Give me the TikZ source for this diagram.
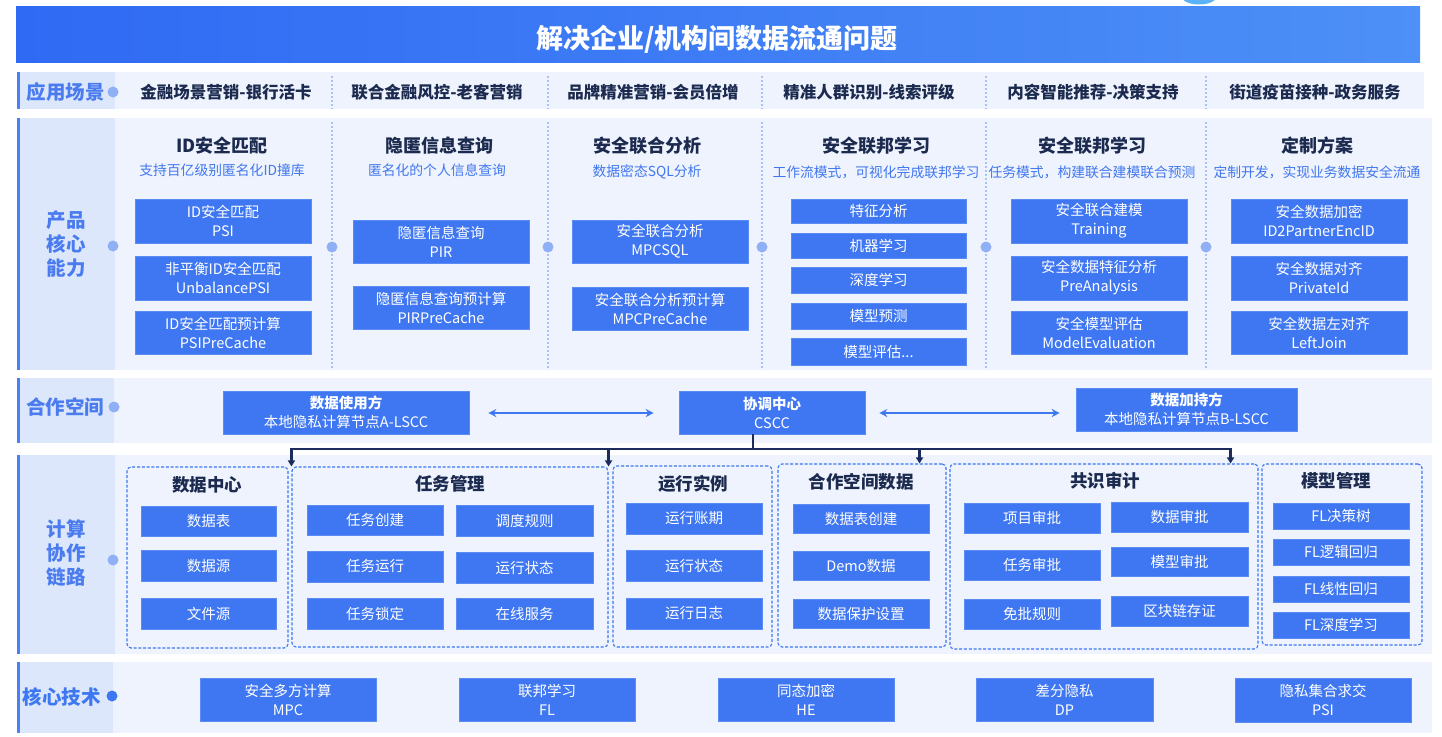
\documentclass[tikz,border=0pt]{standalone}
\usepackage{fontspec}
\setmainfont{Noto Sans CJK SC}
\usetikzlibrary{arrows.meta}
\definecolor{boxblue}{HTML}{3F77F2}
\definecolor{boxedge}{HTML}{5A8CF4}
\definecolor{rowbg}{HTML}{EEF3FD}
\definecolor{panelbg}{HTML}{DDE7FB}
\definecolor{accent}{HTML}{4A7FF5}
\definecolor{navy}{HTML}{1B2A4E}
\definecolor{labelblue}{HTML}{4A7BEF}
\definecolor{subblue}{HTML}{4177EE}
\definecolor{dotblue}{HTML}{8FB0F4}
\definecolor{sepblue}{HTML}{A9C2F5}
\definecolor{grpblue}{HTML}{3D78F0}
\definecolor{treecol}{HTML}{1A2B5C}
\definecolor{titleL}{HTML}{2F6AF4}
\definecolor{titleR}{HTML}{4D90F6}
\definecolor{blob}{HTML}{5AB2F8}
\newcommand{\mybox}[6]{\node[bbox, minimum width={#4-#2}, minimum height={#5-#3}] (#1) at ({(#2+#4)/2},{(#3+#5)/2}) {#6};}
\newcommand{\mygrp}[5]{\node[grp, minimum width={#4-#2}, minimum height={#5-#3}] (#1) at ({(#2+#4)/2},{(#3+#5)/2}) {};}
\begin{document}
\begin{tikzpicture}[x=1pt,y=-1pt,
  bbox/.style={fill=boxblue, draw=boxedge, line width=0.6pt, text=white, align=center, inner sep=0pt,
    font=\fontsize{14.5}{19}\selectfont},
  grp/.style={draw=grpblue, line width=1.1pt, dash pattern=on 3pt off 1.8pt, rounded corners=4pt, fill=rowbg, inner sep=0pt},
  grptitle/.style={text=navy, font=\fontsize{17.5}{20}\selectfont\bfseries},
  head/.style={text=navy, font=\fontsize{18}{20}\selectfont\bfseries},
  sub/.style={text=subblue, font=\fontsize{13.8}{16}\selectfont},
  scen/.style={text=navy, font=\fontsize{16.5}{18}\selectfont\bfseries},
  rowlabel/.style={text=labelblue, align=center, font=\fontsize{19.5}{24}\selectfont\bfseries},
  ldot/.style={fill=dotblue, draw=none},
  sepline/.style={draw=sepblue, line width=1.2pt, dash pattern=on 2pt off 2pt},
  dbl/.style={draw=grpblue, line width=1.6pt, {Stealth[width=8pt,length=8pt]}-{Stealth[width=8pt,length=8pt]}},
  tree/.style={draw=treecol, line width=2.2pt},
  treearrow/.style={draw=treecol, line width=2.2pt, -{Triangle[width=7pt,length=6pt]}}
]
\useasboundingbox (0,0) rectangle (1442,736);
\fill[white] (0,0) rectangle (1442,736);
% top blob
\fill[blob] (1199,-3) ellipse [x radius=17pt, y radius=7.5pt];
% title bar
\shade[left color=titleL, right color=titleR] (16,6) rectangle (1420,62);
\node[text=white, font=\fontsize{27}{30}\selectfont\bfseries] (title) at (717,39) {解决企业/机构间数据流通问题};

% ---------- row backgrounds ----------
\fill[rowbg] (20,72) rectangle (1424,109);
\fill[rowbg] (20,118) rectangle (1432,370);
\fill[rowbg] (20,378) rectangle (1432,443);
\fill[rowbg] (20,455) rectangle (1432,654);
\fill[rowbg] (20,662) rectangle (1432,733);
\fill[panelbg] (20,72) rectangle (115,109);
\fill[panelbg] (20,118) rectangle (115,370);
\fill[panelbg] (20,378) rectangle (114,443);
\fill[panelbg] (20,455) rectangle (115,654);
\fill[panelbg] (20,662) rectangle (113,733);
\fill[accent] (17,72) rectangle (20,109);
\fill[accent] (17,118) rectangle (20,370);
\fill[accent] (17,378) rectangle (20,443);
\fill[accent] (17,455) rectangle (20,654);
\fill[accent] (17,662) rectangle (20,733);

% ---------- row labels ----------
\node[rowlabel] (l1) at (66,92) {应用场景};
\node[rowlabel] (l2) at (66,244) {产品\\核心\\能力};
\node[rowlabel] (l3) at (65,407) {合作空间};
\node[rowlabel] (l4) at (66,553) {计算\\协作\\链路};
\node[rowlabel, text=grpblue] (l5) at (62,697) {核心技术};
\fill[ldot] (113,92) circle (5.5pt);
\fill[ldot] (113,246) circle (5.5pt);
\fill[ldot] (114,407) circle (5.5pt);
\fill[ldot] (113,560) circle (5.5pt);
\fill[grpblue] (112,696) circle (5.5pt);

% ---------- separators ----------
\foreach \sx in {332,548,762,986,1206}{
  \draw[sepline] (\sx,76) -- (\sx,109);
  \draw[sepline] (\sx,122) -- (\sx,370);
  \fill[ldot] (\sx,247) circle (5.5pt);
}

% ---------- scenarios ----------
\node[scen] (sc1) at (226,92) {金融场景营销-银行活卡};
\node[scen] (sc2) at (437,92) {联合金融风控-老客营销};
\node[scen] (sc3) at (653,92) {品牌精准营销-会员倍增};
\node[scen] (sc4) at (869,92) {精准人群识别-线索评级};
\node[scen] (sc5) at (1093,92) {内容智能推荐-决策支持};
\node[scen] (sc6) at (1315,92) {街道疫苗接种-政务服务};

% ---------- product capabilities ----------
\node[head] (h1) at (222,146) {ID安全匹配};
\node[sub] (s1) at (222,170) {支持百亿级别匿名化ID撞库};
\node[head] (h2) at (439,146) {隐匿信息查询};
\node[sub] (s2) at (437,170) {匿名化的个人信息查询};
\node[head] (h3) at (647,146) {安全联合分析};
\node[sub] (s3) at (647,172) {数据密态SQL分析};
\node[head] (h4) at (876,146) {安全联邦学习};
\node[sub] (s4) at (876,172) {工作流模式，可视化完成联邦学习};
\node[head] (h5) at (1092,146) {安全联邦学习};
\node[sub] (s5) at (1092,172) {任务模式，构建联合建模联合预测};
\node[head] (h6) at (1317,146) {定制方案};
\node[sub] (s6) at (1317,172) {定制开发，实现业务数据安全流通};

\mybox{p11}{135}{199}{311}{243}{ID安全匹配\\PSI}
\mybox{p12}{135}{256}{311}{300}{非平衡ID安全匹配\\UnbalancePSI}
\mybox{p13}{135}{311}{311}{354}{ID安全匹配预计算\\PSIPreCache}
\mybox{p21}{353}{220}{529}{263}{隐匿信息查询\\PIR}
\mybox{p22}{353}{286}{529}{329}{隐匿信息查询预计算\\PIRPreCache}
\mybox{p31}{572}{220}{748}{263}{安全联合分析\\MPCSQL}
\mybox{p32}{572}{287}{748}{330}{安全联合分析预计算\\MPCPreCache}
\mybox{p41}{791}{199}{966}{223}{特征分析}
\mybox{p42}{791}{233}{966}{258}{机器学习}
\mybox{p43}{791}{267}{966}{293}{深度学习}
\mybox{p44}{791}{303}{966}{329}{模型预测}
\mybox{p45}{791}{338}{966}{365}{模型评估...}
\mybox{p51}{1011}{199}{1187}{243}{安全联合建模\\Training}
\mybox{p52}{1011}{256}{1187}{300}{安全数据特征分析\\PreAnalysis}
\mybox{p53}{1011}{311}{1187}{354}{安全模型评估\\ModelEvaluation}
\mybox{p61}{1231}{199}{1407}{243}{安全数据加密\\ID2PartnerEncID}
\mybox{p62}{1231}{256}{1407}{300}{安全数据对齐\\PrivateId}
\mybox{p63}{1231}{311}{1407}{354}{安全数据左对齐\\LeftJoin}

% ---------- cooperation space ----------
\mybox{A}{223}{391}{469}{434}{{\bfseries 数据使用方}\\本地隐私计算节点A-LSCC}
\mybox{C}{679}{391}{865}{434}{{\bfseries 协调中心}\\CSCC}
\mybox{B}{1076}{388}{1297}{431}{{\bfseries 数据加持方}\\本地隐私计算节点B-LSCC}
\draw[dbl, shorten <=19pt, shorten >=25pt] (A.east |- 0,413) -- (C.west |- 0,413);
\draw[dbl, shorten <=14pt, shorten >=16pt] (C.east |- 0,413) -- (B.west |- 0,413);

% ---------- compute groups ----------
\mygrp{G1}{127}{467}{288}{648}
\mygrp{G2}{292}{467}{608}{647}
\mygrp{G3}{613}{466}{772}{647}
\mygrp{G4}{778}{464}{946}{647}
\mygrp{G5}{950}{464}{1258}{649}
\mygrp{G6}{1262}{464}{1422}{645}
\node[grptitle] (g1t) at (207,485) {数据中心};
\node[grptitle] (g2t) at (450,484) {任务管理};
\node[grptitle] (g3t) at (693,484) {运行实例};
\node[grptitle] (g4t) at (861,482) {合作空间数据};
\node[grptitle] (g5t) at (1105,481) {共识审计};
\node[grptitle] (g6t) at (1336,481) {模型管理};

\mybox{d1}{141}{506}{276}{536}{数据表}
\mybox{d2}{141}{550}{276}{581}{数据源}
\mybox{d3}{141}{598}{276}{629}{文件源}
\mybox{t1}{307}{505}{443}{535}{任务创建}
\mybox{t2}{456}{505}{593}{536}{调度规则}
\mybox{t3}{307}{551}{443}{582}{任务运行}
\mybox{t4}{456}{552}{593}{583}{运行状态}
\mybox{t5}{307}{598}{443}{629}{任务锁定}
\mybox{t6}{456}{598}{593}{629}{在线服务}
\mybox{r1}{626}{503}{762}{534}{运行账期}
\mybox{r2}{626}{550}{762}{581}{运行状态}
\mybox{r3}{626}{598}{762}{629}{运行日志}
\mybox{q1}{793}{504}{929}{533}{数据表创建}
\mybox{q2}{793}{551}{929}{580}{Demo数据}
\mybox{q3}{793}{599}{929}{628}{数据保护设置}
\mybox{a1}{964}{503}{1100}{533}{项目审批}
\mybox{a2}{1111}{502}{1248}{532}{数据审批}
\mybox{a3}{964}{550}{1100}{580}{任务审批}
\mybox{a4}{1111}{547}{1248}{576}{模型审批}
\mybox{a5}{964}{599}{1100}{629}{免批规则}
\mybox{a6}{1111}{596}{1248}{626}{区块链存证}
\mybox{m1}{1273}{503}{1409}{529}{FL决策树}
\mybox{m2}{1273}{539}{1409}{565}{FL逻辑回归}
\mybox{m3}{1273}{576}{1409}{602}{FL线性回归}
\mybox{m4}{1273}{612}{1409}{638}{FL深度学习}

% ---------- tree from coordination center ----------
\coordinate (j) at (753,449);
\draw[tree] (C.south -| j) -- (j);
\draw[treearrow] (j) -| (G2.north west);
\draw[treearrow] (j) -| (G2.north east);
\draw[treearrow] (j) -| ([xshift=-27pt]G4.north east);
\draw[treearrow] (j) -| ([xshift=-28pt]G5.north east);

% ---------- core technologies ----------
\mybox{k1}{200}{678}{376}{721}{安全多方计算\\MPC}
\mybox{k2}{459}{678}{635}{721}{联邦学习\\FL}
\mybox{k3}{718}{678}{894}{721}{同态加密\\HE}
\mybox{k4}{976}{678}{1153}{721}{差分隐私\\DP}
\mybox{k5}{1235}{678}{1411}{722}{隐私集合求交\\PSI}
\end{tikzpicture}
\end{document}
